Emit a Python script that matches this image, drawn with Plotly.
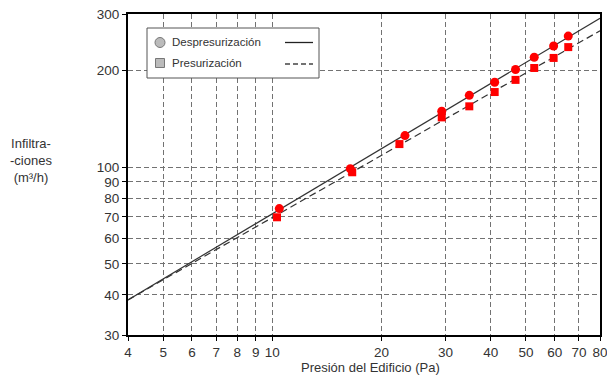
import plotly.graph_objects as go
import numpy as np

# Data
desp_x = [10.45, 16.4, 23.2, 29.3, 34.9, 41.0, 46.8, 52.7, 59.6, 65.4]
desp_y = [74.3, 98.9, 125.4, 149.3, 167.4, 183.9, 201.4, 220.0, 238.4, 256.0]
pres_x = [10.3, 16.6, 22.4, 29.3, 34.9, 41.0, 46.8, 52.7, 59.6, 65.4]
pres_y = [69.8, 96.4, 118.0, 142.9, 154.7, 171.4, 187.0, 203.7, 218.9, 236.6]

line_x = [4, 80]
desp_line_y = [38.6, 291.0]
pres_line_y = [38.6, 266.0]

x_ticks = [4, 5, 6, 7, 8, 9, 10, 20, 30, 40, 50, 60, 70, 80]
y_ticks = [30, 40, 50, 60, 70, 80, 90, 100, 200, 300]

legend_names = ["Despresurización", "Presurización"]
x_title = "Presión del Edificio (Pa)"
y_title = "Infiltra-<br>-ciones<br>(m³/h)"

fig = go.Figure()
fig.add_trace(go.Scatter(x=line_x, y=desp_line_y, mode="lines",
                         line=dict(color="#333", width=1.2), showlegend=False))
fig.add_trace(go.Scatter(x=line_x, y=pres_line_y, mode="lines",
                         line=dict(color="#333", width=1.2, dash="7px,4px"), showlegend=False))
fig.add_trace(go.Scatter(x=desp_x, y=desp_y, mode="markers",
                         marker=dict(symbol="circle", size=9, color="#ff0000"), showlegend=False))
fig.add_trace(go.Scatter(x=pres_x, y=pres_y, mode="markers",
                         marker=dict(symbol="square", size=8, color="#ff0000"), showlegend=False))

font = "Liberation Sans, Arial, sans-serif"
axis_common = dict(
    type="log", showline=True, mirror=True, linecolor="black", linewidth=2,
    ticks="outside", ticklen=4, tickcolor="black", tickwidth=1,
    showgrid=True, gridcolor="#727272", gridwidth=1, griddash="5px,3px",
    zeroline=False, automargin=False, ticklabeloverflow="allow",
    tickfont=dict(family=font, size=13.5, color="#333"),
)

fig.update_xaxes(**axis_common, range=[np.log10(4), np.log10(80)],
                 tickvals=x_ticks, ticktext=[str(v) for v in x_ticks])
fig.update_yaxes(**axis_common, range=[np.log10(30), np.log10(300)],
                 tickvals=y_ticks, ticktext=[str(v) for v in y_ticks])

W, H = 607, 378
l, r, t, b = 128, 7, 14, 43
PL, PT, PW, PH = l, t, W - l - r, H - t - b
def px(xp): return (xp - PL) / PW
def py(yp): return 1 - (yp - PT) / PH

fig.add_annotation(xref="paper", yref="paper", x=px(31), y=py(160), xanchor="center", yanchor="middle",
                   text=y_title, showarrow=False, align="center",
                   font=dict(family=font, size=13, color="#333"))
fig.add_annotation(xref="paper", yref="paper", x=px(370), y=py(367), xanchor="center", yanchor="middle",
                   text=x_title, showarrow=False, font=dict(family=font, size=13, color="#333"))

shapes = [
    dict(type="rect", xref="paper", yref="paper", x0=px(147), x1=px(319), y0=py(78), y1=py(28),
         line=dict(color="#555", width=1), fillcolor="white", layer="above"),
    dict(type="circle", xref="paper", yref="paper", x0=px(155), x1=px(165), y0=py(47.5), y1=py(37.5),
         line=dict(color="#777", width=1), fillcolor="#bbbbbb", layer="above"),
    dict(type="rect", xref="paper", yref="paper", x0=px(155.5), x1=px(164.5), y0=py(67.5), y1=py(58.5),
         line=dict(color="#777", width=1), fillcolor="#bbbbbb", layer="above"),
    dict(type="line", xref="paper", yref="paper", x0=px(285), x1=px(313), y0=py(42.5), y1=py(42.5),
         line=dict(color="#222", width=1.3), layer="above"),
    dict(type="line", xref="paper", yref="paper", x0=px(285), x1=px(313), y0=py(64), y1=py(64),
         line=dict(color="#444", width=1.3, dash="5px,3px"), layer="above"),
]
fig.update_layout(shapes=shapes)
for name, yp in zip(legend_names, [42.5, 63]):
    fig.add_annotation(xref="paper", yref="paper", x=px(170), y=py(yp), xanchor="left", yanchor="middle",
                       text=name, showarrow=False, font=dict(family=font, size=11.5, color="#333"))

fig.update_layout(
    width=W, height=H, margin=dict(l=l, r=r, t=t, b=b),
    paper_bgcolor="white", plot_bgcolor="white", hovermode=False,
)

fig.write_html("out.html", config={"displayModeBar": False},
               post_script="document.body.style.margin='0';document.body.style.overflow='hidden';")
